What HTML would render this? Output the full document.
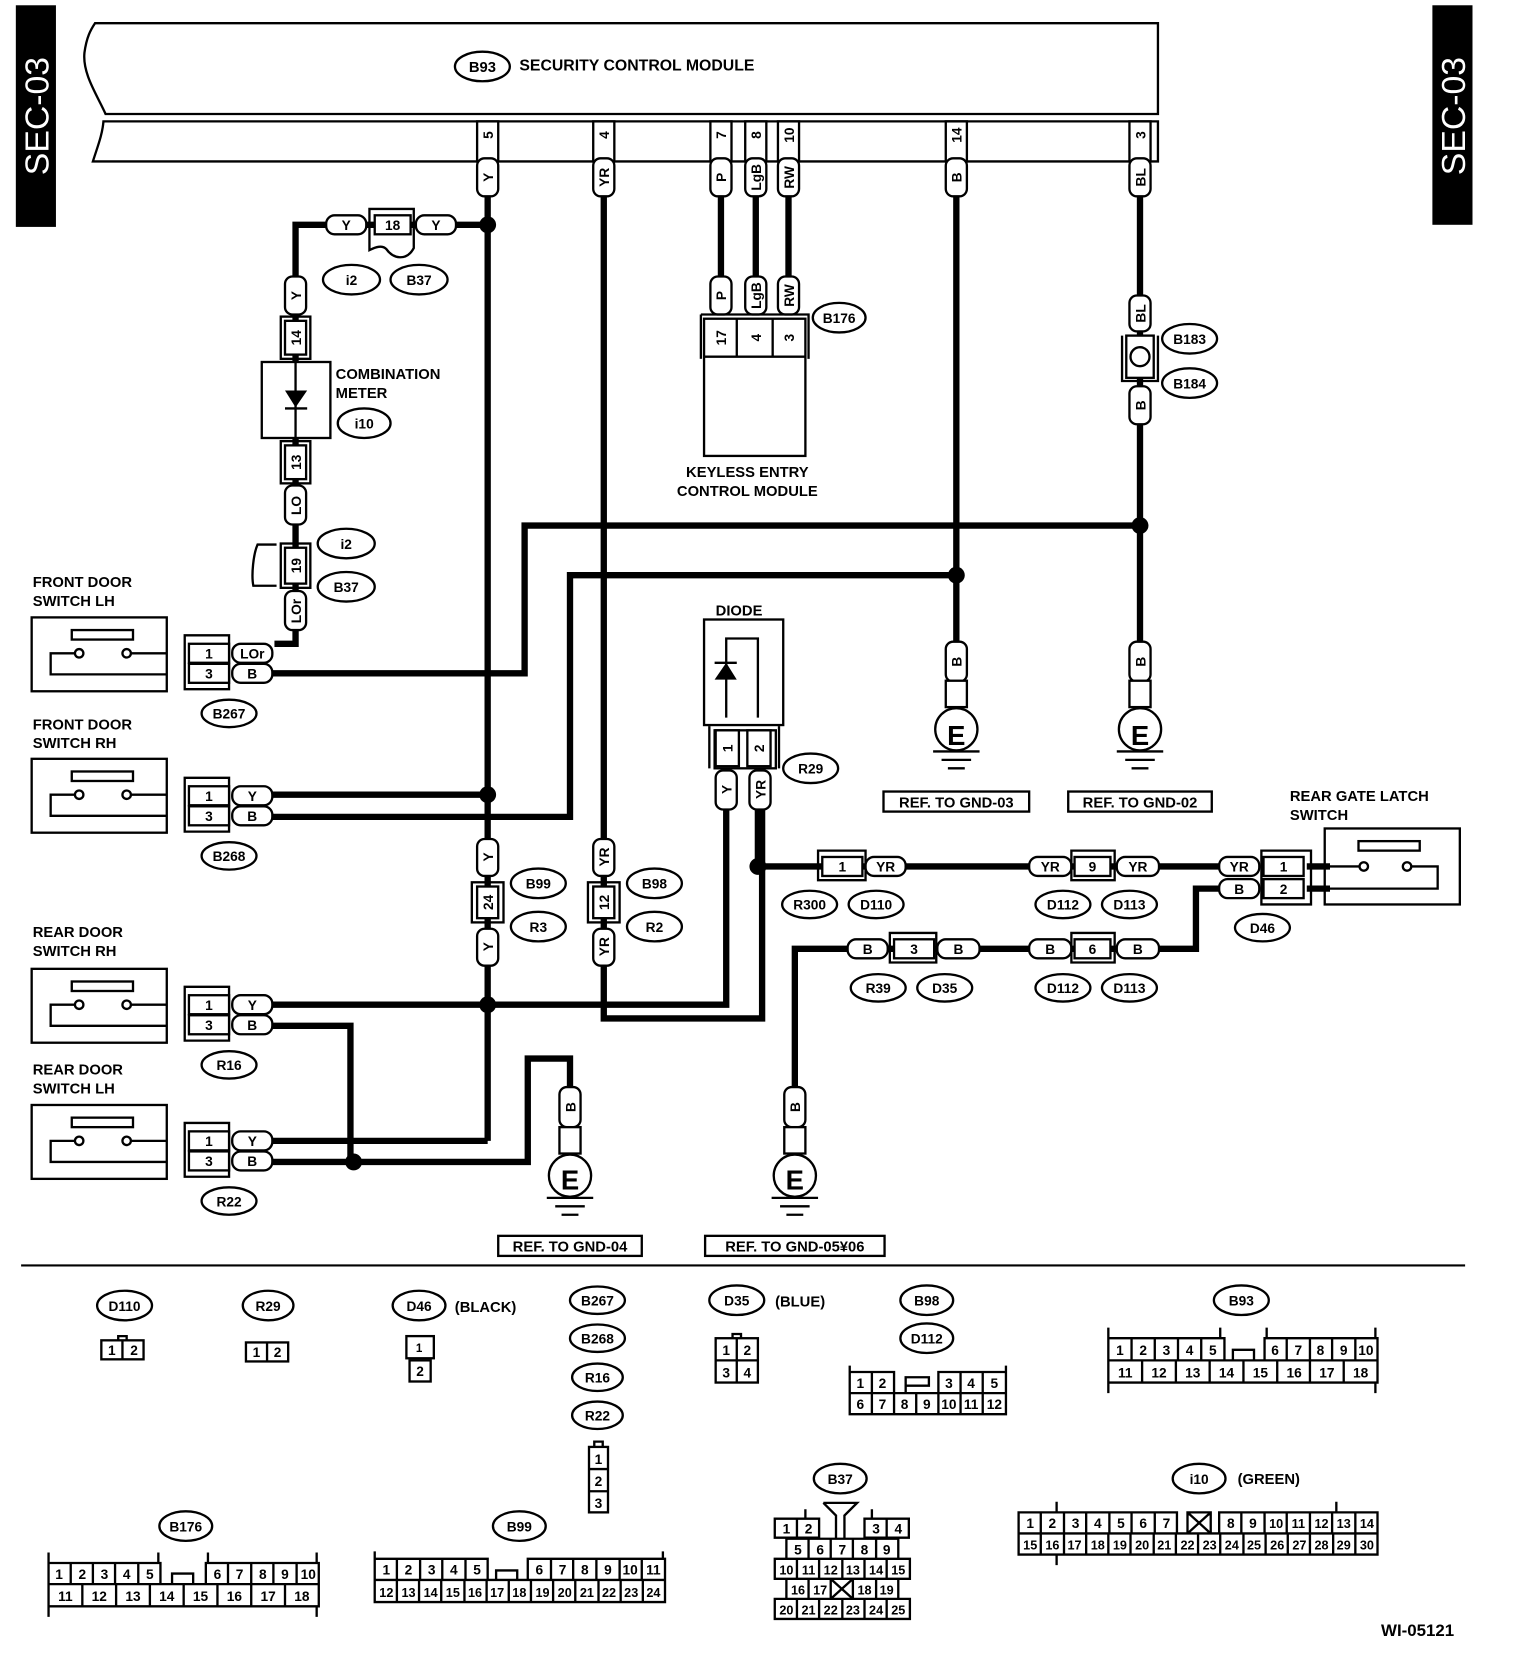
<!DOCTYPE html>
<html><head><meta charset="utf-8"><style>
html,body{margin:0;padding:0;background:#fff}
svg{display:block}
text{font-family:"Liberation Sans",sans-serif;font-weight:bold;fill:#000}
text.sec{font-weight:normal;fill:#fff}
.w{fill:none;stroke:#000;stroke-width:6;stroke-linejoin:miter}
.t{fill:none;stroke:#000;stroke-width:2.2}
.c{fill:#fff;stroke:#000;stroke-width:2.2}
</style></head><body>
<svg width="1520" height="1658" viewBox="0 0 1440 1571" preserveAspectRatio="none" xmlns="http://www.w3.org/2000/svg">
<defs>
<g id="sw">
<rect x="0" y="0" width="128" height="70" class="t"/>
<rect x="38" y="12" width="58" height="9" class="t"/>
<circle cx="45" cy="34" r="4" class="c"/><circle cx="90" cy="34" r="4" class="c"/>
<path d="M41 34H18V54H128M94 34H128" class="t"/>
</g>
<g id="gnd">
<rect x="-10" y="0" width="20" height="25" class="c"/>
<circle cx="0" cy="46" r="20" class="c"/>
<path d="M-22 67H22M-14 75H14M-8 83H8" class="t" stroke-width="2.5"/>
</g>
</defs>

<!-- SEC-03 bars -->
<rect x="15" y="5" width="38" height="210" fill="#000"/>
<text class="sec" transform="translate(46,110) rotate(-90)" font-size="32" text-anchor="middle">SEC-03</text>
<rect x="1357" y="5" width="38" height="208" fill="#000"/>
<text class="sec" transform="translate(1388,110) rotate(-90)" font-size="32" text-anchor="middle">SEC-03</text>

<!-- module -->
<path d="M90 22H1097V108H100C92 90 78 70 80 50C82 35 86 28 90 22Z" class="t"/>
<path d="M98 115H1097V153H88C92 140 97 128 98 115Z" class="t"/>
<ellipse cx="457" cy="63" rx="26" ry="14" class="t"/>
<text x="457" y="68" font-size="14" text-anchor="middle">B93</text>
<text x="492" y="67" font-size="15">SECURITY CONTROL MODULE</text>

<!-- module pins -->
<g font-size="13" text-anchor="middle">
<rect x="452" y="115" width="20" height="38" class="t"/><text transform="translate(467,128) rotate(-90)">5</text>
<rect x="562" y="115" width="20" height="38" class="t"/><text transform="translate(577,128) rotate(-90)">4</text>
<rect x="673" y="115" width="20" height="38" class="t"/><text transform="translate(688,128) rotate(-90)">7</text>
<rect x="706" y="115" width="20" height="38" class="t"/><text transform="translate(721,128) rotate(-90)">8</text>
<rect x="737" y="115" width="20" height="38" class="t"/><text transform="translate(752,128) rotate(-90)">10</text>
<rect x="896" y="115" width="20" height="38" class="t"/><text transform="translate(911,128) rotate(-90)">14</text>
<rect x="1070" y="115" width="20" height="38" class="t"/><text transform="translate(1085,128) rotate(-90)">3</text>
</g>

<!-- wires -->
<path class="w" d="M462 185V1081"/>
<path class="w" d="M462 213H280V610H260"/>
<path class="w" d="M572 185V965H722V760"/>
<path class="w" d="M683 185V265M716 185V265M747 185V265"/>
<path class="w" d="M906 185V612"/>
<path class="w" d="M1080 185V612"/>
<path class="w" d="M258 638H497V498H1080"/>
<path class="w" d="M258 753H462"/>
<path class="w" d="M258 774H540V545H906"/>
<path class="w" d="M258 952H688V765"/>
<path class="w" d="M258 972H332V1101"/>
<path class="w" d="M258 1081H462"/>
<path class="w" d="M258 1101H500V1003H540V1032"/>
<path class="w" d="M718 765V821H1155"/>
<path class="w" d="M1155 842H1133V899H753V1032"/>
<path class="w" d="M1238 821H1260M1238 842H1260"/>

<!-- junctions -->
<g fill="#000">
<circle cx="462" cy="213" r="8"/><circle cx="462" cy="753" r="8"/><circle cx="462" cy="952" r="8"/>
<circle cx="335" cy="1101" r="8"/><circle cx="906" cy="545" r="8"/><circle cx="1080" cy="498" r="8"/>
<circle cx="718" cy="821" r="8"/>
</g>

<!-- vertical capsules -->
<g font-size="13" text-anchor="middle">
<rect x="452" y="150" width="20" height="36" rx="7" class="c"/><text transform="translate(467,168) rotate(-90)">Y</text>
<rect x="562" y="150" width="20" height="36" rx="7" class="c"/><text transform="translate(577,168) rotate(-90)">YR</text>
<rect x="673" y="150" width="20" height="36" rx="7" class="c"/><text transform="translate(688,168) rotate(-90)">P</text>
<rect x="706" y="150" width="20" height="36" rx="7" class="c"/><text transform="translate(721,168) rotate(-90)">LgB</text>
<rect x="737" y="150" width="20" height="36" rx="7" class="c"/><text transform="translate(752,168) rotate(-90)">RW</text>
<rect x="896" y="150" width="20" height="36" rx="7" class="c"/><text transform="translate(911,168) rotate(-90)">B</text>
<rect x="1070" y="150" width="20" height="36" rx="7" class="c"/><text transform="translate(1085,168) rotate(-90)">BL</text>

<!-- combination meter chain -->
<rect x="270" y="262" width="20" height="36" rx="7" class="c"/><text transform="translate(285,280) rotate(-90)">Y</text>
<rect x="266" y="300" width="28" height="40" class="t"/><rect x="270" y="304" width="20" height="32" class="c"/><text transform="translate(285,320) rotate(-90)">14</text>
<rect x="248" y="343" width="65" height="72" class="c"/>
<path d="M280 343V415M270 387H291" class="t"/><path d="M270 370H291L280 386Z" fill="#000"/>
<rect x="266" y="418" width="28" height="40" class="t"/><rect x="270" y="422" width="20" height="32" class="c"/><text transform="translate(285,438) rotate(-90)">13</text>
<rect x="270" y="460" width="20" height="37" rx="7" class="c"/><text transform="translate(285,479) rotate(-90)">LO</text>
<path d="M262 516H244C240 525 238 545 240 555L262 555" class="t"/>
<rect x="266" y="515" width="28" height="42" class="t"/><rect x="270" y="519" width="20" height="34" class="c"/><text transform="translate(285,536) rotate(-90)">19</text>
<rect x="270" y="560" width="20" height="37" rx="7" class="c"/><text transform="translate(285,579) rotate(-90)">LOr</text>

<!-- i2/B37 top connector -->
<rect x="309" y="204" width="38" height="18" rx="8" class="c"/><text x="328" y="218">Y</text>
<path d="M350 198H392V235C385 248 372 245 366 236C362 232 356 234 350 237Z" class="t"/>
<rect x="355" y="204" width="34" height="18" class="c"/><text x="372" y="218">18</text>
<rect x="394" y="204" width="38" height="18" rx="8" class="c"/><text x="413" y="218">Y</text>

<!-- B98 / B99 -->
<rect x="452" y="795" width="20" height="35" rx="7" class="c"/><text transform="translate(467,812) rotate(-90)">Y</text>
<rect x="447" y="836" width="30" height="38" class="t"/><rect x="452" y="840" width="20" height="30" class="c"/><text transform="translate(467,855) rotate(-90)">24</text>
<rect x="452" y="880" width="20" height="35" rx="7" class="c"/><text transform="translate(467,897) rotate(-90)">Y</text>
<rect x="562" y="795" width="20" height="35" rx="7" class="c"/><text transform="translate(577,812) rotate(-90)">YR</text>
<rect x="557" y="836" width="30" height="38" class="t"/><rect x="562" y="840" width="20" height="30" class="c"/><text transform="translate(577,855) rotate(-90)">12</text>
<rect x="562" y="880" width="20" height="35" rx="7" class="c"/><text transform="translate(577,897) rotate(-90)">YR</text>

<!-- keyless -->
<rect x="673" y="262" width="20" height="36" rx="7" class="c"/><text transform="translate(688,280) rotate(-90)">P</text>
<rect x="706" y="262" width="20" height="36" rx="7" class="c"/><text transform="translate(721,280) rotate(-90)">LgB</text>
<rect x="737" y="262" width="20" height="36" rx="7" class="c"/><text transform="translate(752,280) rotate(-90)">RW</text>
<path d="M664 298H766V340" class="t"/><path d="M664 298V340" class="t"/>
<rect x="667" y="302" width="96" height="130" class="t"/>
<path d="M667 338H763M698 302V338M732 302V338" class="t"/>
<text transform="translate(688,320) rotate(-90)">17</text><text transform="translate(721,320) rotate(-90)">4</text><text transform="translate(752,320) rotate(-90)">3</text>

<!-- B183/B184 -->
<rect x="1070" y="280" width="20" height="34" rx="7" class="c"/><text transform="translate(1085,297) rotate(-90)">BL</text>
<path d="M1063 318V361H1097V318" class="t"/>
<rect x="1067" y="318" width="26" height="40" class="c"/><circle cx="1080" cy="338" r="9" class="c"/>
<rect x="1070" y="366" width="20" height="36" rx="7" class="c"/><text transform="translate(1085,384) rotate(-90)">B</text>

<!-- ground capsules -->
<rect x="896" y="608" width="20" height="38" rx="7" class="c"/><text transform="translate(911,627) rotate(-90)">B</text>
<rect x="1070" y="608" width="20" height="38" rx="7" class="c"/><text transform="translate(1085,627) rotate(-90)">B</text>
<rect x="530" y="1030" width="20" height="38" rx="7" class="c"/><text transform="translate(545,1049) rotate(-90)">B</text>
<rect x="743" y="1030" width="20" height="38" rx="7" class="c"/><text transform="translate(758,1049) rotate(-90)">B</text>

<!-- diode -->
<rect x="667" y="587" width="75" height="100" class="t"/>
<path d="M688 680V605H718V680" class="t"/>
<path d="M677 644H698L688 628Z" fill="#000"/><path d="M677 628H698" class="t"/>
<path d="M672 688V728M738 688V728" class="t"/>
<rect x="677" y="692" width="58" height="36" class="t"/>
<rect x="678" y="692" width="22" height="34" class="c"/><text transform="translate(694,709) rotate(-90)">1</text>
<rect x="708" y="692" width="22" height="34" class="c"/><text transform="translate(724,709) rotate(-90)">2</text>
<rect x="678" y="730" width="20" height="37" rx="7" class="c"/><text transform="translate(693,748) rotate(-90)">Y</text>
<rect x="710" y="730" width="20" height="37" rx="7" class="c"/><text transform="translate(725,748) rotate(-90)">YR</text>
</g>

<!-- grounds -->
<use href="#gnd" x="906" y="645"/><use href="#gnd" x="1080" y="645"/>
<use href="#gnd" x="540" y="1068"/><use href="#gnd" x="753" y="1068"/>
<g font-size="26" text-anchor="middle">
<text x="906" y="706">E</text><text x="1080" y="706">E</text><text x="540" y="1127">E</text><text x="753" y="1127">E</text>
</g>
<g font-size="14" text-anchor="middle">
<rect x="837" y="750" width="138" height="19" class="t"/><text x="906" y="765">REF. TO GND-03</text>
<rect x="1012" y="750" width="136" height="19" class="t"/><text x="1080" y="765">REF. TO GND-02</text>
<rect x="472" y="1171" width="136" height="19" class="t"/><text x="540" y="1186">REF. TO GND-04</text>
<rect x="668" y="1171" width="170" height="19" class="t"/><text x="753" y="1186">REF. TO GND-05¥06</text>
</g>

<!-- switches -->
<use href="#sw" x="30" y="585"/><use href="#sw" x="30" y="719"/>
<use href="#sw" x="30" y="918"/><use href="#sw" x="30" y="1047"/>
<g font-size="14">
<text x="31" y="556">FRONT DOOR</text><text x="31" y="574">SWITCH LH</text>
<text x="31" y="691">FRONT DOOR</text><text x="31" y="709">SWITCH RH</text>
<text x="31" y="888">REAR DOOR</text><text x="31" y="906">SWITCH RH</text>
<text x="31" y="1018">REAR DOOR</text><text x="31" y="1036">SWITCH LH</text>
<text x="318" y="359">COMBINATION</text><text x="318" y="377">METER</text>
<text x="708" y="452" text-anchor="middle">KEYLESS ENTRY</text><text x="708" y="470" text-anchor="middle">CONTROL MODULE</text>
<text x="678" y="583">DIODE</text>
<text x="1222" y="759">REAR GATE LATCH</text><text x="1222" y="777">SWITCH</text>
</g>

<!-- switch connectors -->
<g font-size="13" text-anchor="middle">
<g id="sc">
<path d="M175 602H217V653H175Z" class="t"/>
<rect x="179" y="610" width="38" height="18" class="c"/><rect x="179" y="629" width="38" height="18" class="c"/>
<rect x="220" y="610" width="38" height="18" rx="8" class="c"/><rect x="220" y="629" width="38" height="18" rx="8" class="c"/>
</g>
<text x="198" y="624">1</text><text x="198" y="643">3</text><text x="239" y="624">LOr</text><text x="239" y="643">B</text>
<use href="#sc" y="135"/><text x="198" y="759">1</text><text x="198" y="778">3</text><text x="239" y="759">Y</text><text x="239" y="778">B</text>
<use href="#sc" y="333"/><text x="198" y="957">1</text><text x="198" y="976">3</text><text x="239" y="957">Y</text><text x="239" y="976">B</text>
<use href="#sc" y="462"/><text x="198" y="1086">1</text><text x="198" y="1105">3</text><text x="239" y="1086">Y</text><text x="239" y="1105">B</text>

<!-- horizontal connectors -->
<path d="M775 806H820V834H775Z" class="t"/>
<rect x="779" y="812" width="38" height="18" class="c"/><text x="798" y="826">1</text>
<rect x="820" y="812" width="38" height="18" rx="8" class="c"/><text x="839" y="826">YR</text>
<rect x="975" y="812" width="40" height="18" rx="8" class="c"/><text x="995" y="826">YR</text>
<path d="M1015 806H1056V834H1015Z" class="t"/>
<rect x="1018" y="812" width="34" height="18" class="c"/><text x="1035" y="826">9</text>
<rect x="1058" y="812" width="40" height="18" rx="8" class="c"/><text x="1078" y="826">YR</text>
<rect x="803" y="890" width="38" height="18" rx="8" class="c"/><text x="822" y="904">B</text>
<path d="M843 884H887V912H843Z" class="t"/>
<rect x="847" y="890" width="38" height="18" class="c"/><text x="866" y="904">3</text>
<rect x="888" y="890" width="40" height="18" rx="8" class="c"/><text x="908" y="904">B</text>
<rect x="975" y="890" width="40" height="18" rx="8" class="c"/><text x="995" y="904">B</text>
<path d="M1015 884H1056V912H1015Z" class="t"/>
<rect x="1018" y="890" width="34" height="18" class="c"/><text x="1035" y="904">6</text>
<rect x="1058" y="890" width="40" height="18" rx="8" class="c"/><text x="1078" y="904">B</text>
<rect x="1155" y="812" width="38" height="18" rx="8" class="c"/><text x="1174" y="826">YR</text>
<rect x="1155" y="833" width="38" height="18" rx="8" class="c"/><text x="1174" y="847">B</text>
<path d="M1195 806H1242V857H1195Z" class="t"/>
<rect x="1197" y="812" width="38" height="18" class="c"/><rect x="1197" y="833" width="38" height="18" class="c"/>
<text x="1216" y="826">1</text><text x="1216" y="847">2</text>
</g>
<!-- rear gate switch -->
<rect x="1255" y="785" width="128" height="72" class="t"/>
<rect x="1287" y="797" width="58" height="9" class="t"/>
<circle cx="1292" cy="821" r="4" class="c"/><circle cx="1333" cy="821" r="4" class="c"/>
<path d="M1288 821H1255M1337 821H1362V842H1255" class="t"/>

<!-- ovals -->
<g font-size="13" text-anchor="middle">
<g class="t">
<ellipse cx="333" cy="265" rx="27" ry="14"/><ellipse cx="397" cy="265" rx="27" ry="14"/>
<ellipse cx="345" cy="401" rx="25" ry="14"/><ellipse cx="328" cy="515" rx="27" ry="14"/><ellipse cx="328" cy="556" rx="27" ry="14"/>
<ellipse cx="795" cy="301" rx="25" ry="14"/><ellipse cx="1127" cy="321" rx="26" ry="14"/><ellipse cx="1127" cy="363" rx="26" ry="14"/>
<ellipse cx="217" cy="676" rx="26" ry="13"/><ellipse cx="217" cy="811" rx="26" ry="13"/><ellipse cx="217" cy="1009" rx="26" ry="13"/><ellipse cx="217" cy="1138" rx="26" ry="13"/>
<ellipse cx="510" cy="837" rx="26" ry="14"/><ellipse cx="510" cy="878" rx="26" ry="14"/><ellipse cx="620" cy="837" rx="26" ry="14"/><ellipse cx="620" cy="878" rx="26" ry="14"/>
<ellipse cx="768" cy="728" rx="26" ry="14"/>
<ellipse cx="767" cy="857" rx="26" ry="13"/><ellipse cx="830" cy="857" rx="26" ry="13"/><ellipse cx="1007" cy="857" rx="26" ry="13"/><ellipse cx="1070" cy="857" rx="26" ry="13"/>
<ellipse cx="1196" cy="879" rx="26" ry="13"/>
<ellipse cx="832" cy="936" rx="26" ry="13"/><ellipse cx="895" cy="936" rx="26" ry="13"/><ellipse cx="1007" cy="936" rx="26" ry="13"/><ellipse cx="1070" cy="936" rx="26" ry="13"/>
</g>
<text x="333" y="270">i2</text><text x="397" y="270">B37</text><text x="345" y="406">i10</text>
<text x="328" y="520">i2</text><text x="328" y="561">B37</text><text x="795" y="306">B176</text>
<text x="1127" y="326">B183</text><text x="1127" y="368">B184</text>
<text x="217" y="681">B267</text><text x="217" y="816">B268</text><text x="217" y="1014">R16</text><text x="217" y="1143">R22</text>
<text x="510" y="842">B99</text><text x="510" y="883">R3</text><text x="620" y="842">B98</text><text x="620" y="883">R2</text>
<text x="768" y="733">R29</text>
<text x="767" y="862">R300</text><text x="830" y="862">D110</text><text x="1007" y="862">D112</text><text x="1070" y="862">D113</text>
<text x="1196" y="884">D46</text>
<text x="832" y="941">R39</text><text x="895" y="941">D35</text><text x="1007" y="941">D112</text><text x="1070" y="941">D113</text>
</g>

<!-- divider -->
<path d="M20 1199H1388" stroke="#000" stroke-width="2"/>

<!-- bottom connector legends -->
<g font-size="13" text-anchor="middle">
<g class="t">
<ellipse cx="118" cy="1237" rx="26" ry="14"/><ellipse cx="254" cy="1237" rx="24" ry="14"/><ellipse cx="397" cy="1237" rx="25" ry="14"/>
<ellipse cx="566" cy="1232" rx="26" ry="13"/><ellipse cx="566" cy="1268" rx="26" ry="13"/><ellipse cx="566" cy="1305" rx="24" ry="13"/><ellipse cx="566" cy="1341" rx="24" ry="13"/>
<ellipse cx="698" cy="1232" rx="26" ry="14"/><ellipse cx="878" cy="1232" rx="25" ry="14"/><ellipse cx="878" cy="1268" rx="25" ry="14"/>
<ellipse cx="1176" cy="1232" rx="26" ry="14"/><ellipse cx="1136" cy="1401" rx="25" ry="14"/><ellipse cx="796" cy="1401" rx="25" ry="14"/>
<ellipse cx="176" cy="1446" rx="25" ry="14"/><ellipse cx="492" cy="1446" rx="25" ry="14"/>
</g>
<text x="118" y="1242">D110</text><text x="254" y="1242">R29</text><text x="397" y="1242">D46</text>
<text x="566" y="1237">B267</text><text x="566" y="1273">B268</text><text x="566" y="1310">R16</text><text x="566" y="1346">R22</text>
<text x="698" y="1237">D35</text><text x="878" y="1237">B98</text><text x="878" y="1273">D112</text>
<text x="1176" y="1237">B93</text><text x="1136" y="1406">i10</text><text x="796" y="1406">B37</text>
<text x="176" y="1451">B176</text><text x="492" y="1451">B99</text>
<text x="460" y="1243" font-size="14">(BLACK)</text><text x="758" y="1238" font-size="14">(BLUE)</text><text x="1202" y="1406" font-size="14">(GREEN)</text>
<text x="1343" y="1550" font-size="16">WI-05121</text>
</g>

<g font-size="13" text-anchor="middle">
<!-- D110 -->
<rect x="96" y="1270" width="40" height="18" class="t"/><path d="M116 1270V1288M112 1270V1266H120V1270" class="t"/>
<text x="106" y="1284">1</text><text x="127" y="1284">2</text>
<!-- R29 -->
<rect x="233" y="1272" width="40" height="18" class="t"/><path d="M253 1272V1290" class="t"/>
<text x="243" y="1286">1</text><text x="263" y="1286">2</text>
<!-- D46 -->
<rect x="385" y="1266" width="26" height="21" class="t"/><rect x="388" y="1289" width="20" height="20" class="t"/>
<text x="397" y="1281" font-size="11">1</text><text x="398" y="1304">2</text>
<!-- 3-pin -->
<rect x="558" y="1371" width="18" height="62" class="t"/><path d="M558 1392H576M558 1413H576M563 1371V1366H571V1371" class="t"/>
<text x="567" y="1387">1</text><text x="567" y="1408">2</text><text x="567" y="1429">3</text>
<!-- D35 -->
<rect x="678" y="1268" width="40" height="42" class="t"/><path d="M678 1289H718M698 1268V1310M694 1268V1264H702V1268" class="t"/>
<text x="688" y="1284">1</text><text x="708" y="1284">2</text><text x="688" y="1305">3</text><text x="708" y="1305">4</text>
<!-- B98/D112 -->
<path d="M805 1300H847V1320H805ZM889 1300H953V1320H889ZM805 1320H953V1340H805ZM826 1300V1320M910 1300V1320M931 1300V1320M858 1313H880V1305H858V1320M826 1320V1340M847 1320V1340M868 1320V1340M889 1320V1340M910 1320V1340M931 1320V1340M805 1294V1300M953 1294V1300" class="t"/>
<text x="815" y="1315">1</text><text x="836" y="1315">2</text><text x="899" y="1315">3</text><text x="920" y="1315">4</text><text x="942" y="1315">5</text>
<text x="815" y="1335">6</text><text x="836" y="1335">7</text><text x="857" y="1335">8</text><text x="878" y="1335">9</text><text x="899" y="1335">10</text><text x="920" y="1335">11</text><text x="942" y="1335">12</text>
<!-- B93 -->
<path d="M1050 1268H1160V1289H1050ZM1198 1268H1305V1289H1198ZM1050 1289H1305V1310H1050ZM1072 1268V1289M1094 1268V1289M1116 1268V1289M1138 1268V1289M1219 1268V1289M1241 1268V1289M1262 1268V1289M1284 1268V1289M1168 1289V1279H1188V1289M1082 1289V1310M1114 1289V1310M1146 1289V1310M1178 1289V1310M1210 1289V1310M1241 1289V1310M1273 1289V1310M1050 1258V1268M1156 1258V1268M1200 1258V1268M1303 1258V1268M1050 1310V1320M1303 1310V1320" class="t"/>
<text x="1061" y="1284">1</text><text x="1083" y="1284">2</text><text x="1105" y="1284">3</text><text x="1127" y="1284">4</text><text x="1149" y="1284">5</text>
<text x="1208" y="1284">6</text><text x="1230" y="1284">7</text><text x="1251" y="1284">8</text><text x="1273" y="1284">9</text><text x="1294" y="1284">10</text>
<text x="1066" y="1305">11</text><text x="1098" y="1305">12</text><text x="1130" y="1305">13</text><text x="1162" y="1305">14</text><text x="1194" y="1305">15</text><text x="1226" y="1305">16</text><text x="1257" y="1305">17</text><text x="1289" y="1305">18</text>
<!-- B176 -->
<path d="M46 1481H152V1501H46ZM195 1481H302V1501H195ZM46 1501H302V1522H46ZM67 1481V1501M88 1481V1501M109 1481V1501M131 1481V1501M216 1481V1501M238 1481V1501M259 1481V1501M281 1481V1501M163 1501V1491H183V1501M78 1501V1522M110 1501V1522M142 1501V1522M174 1501V1522M206 1501V1522M238 1501V1522M270 1501V1522M46 1471V1481M150 1471V1481M197 1471V1481M300 1471V1481M46 1522V1532M300 1522V1532" class="t"/>
<text x="56" y="1496">1</text><text x="78" y="1496">2</text><text x="99" y="1496">3</text><text x="120" y="1496">4</text><text x="142" y="1496">5</text>
<text x="206" y="1496">6</text><text x="227" y="1496">7</text><text x="249" y="1496">8</text><text x="270" y="1496">9</text><text x="292" y="1496">10</text>
<text x="62" y="1517">11</text><text x="94" y="1517">12</text><text x="126" y="1517">13</text><text x="158" y="1517">14</text><text x="190" y="1517">15</text><text x="222" y="1517">16</text><text x="254" y="1517">17</text><text x="286" y="1517">18</text>
<!-- B99 -->
<path d="M355 1477H462V1497H355ZM500 1477H630V1497H500ZM355 1497H630V1518H355ZM376 1477V1497M398 1477V1497M419 1477V1497M441 1477V1497M522 1477V1497M543 1477V1497M565 1477V1497M587 1477V1497M608 1477V1497M470 1497V1488H490V1497M376 1497V1518M397 1497V1518M418 1497V1518M440 1497V1518M461 1497V1518M482 1497V1518M503 1497V1518M524 1497V1518M545 1497V1518M567 1497V1518M588 1497V1518M609 1497V1518M355 1470V1477M628 1470V1477" class="t"/>
<text x="366" y="1492">1</text><text x="387" y="1492">2</text><text x="409" y="1492">3</text><text x="430" y="1492">4</text><text x="452" y="1492">5</text>
<text x="511" y="1492">6</text><text x="533" y="1492">7</text><text x="554" y="1492">8</text><text x="576" y="1492">9</text><text x="597" y="1492">10</text><text x="619" y="1492">11</text>
<g font-size="12"><text x="366" y="1513">12</text><text x="387" y="1513">13</text><text x="408" y="1513">14</text><text x="429" y="1513">15</text><text x="450" y="1513">16</text><text x="471" y="1513">17</text><text x="492" y="1513">18</text><text x="514" y="1513">19</text><text x="535" y="1513">20</text><text x="556" y="1513">21</text><text x="577" y="1513">22</text><text x="598" y="1513">23</text><text x="619" y="1513">24</text></g>
<!-- B37 -->
<path d="M734 1439H776V1457H734ZM819 1439H861V1457H819ZM755 1439V1457M840 1439V1457M745 1458H851V1477H745ZM766 1458V1477M787 1458V1477M808 1458V1477M830 1458V1477M734 1477H862V1496H734ZM755 1477V1496M776 1477V1496M798 1477V1496M819 1477V1496M840 1477V1496M745 1496H851V1515H745ZM766 1496V1515M787 1496V1515M808 1496V1515M830 1496V1515M787 1496L808 1515M808 1496L787 1515M734 1515H862V1534H734ZM755 1515V1534M776 1515V1534M798 1515V1534M819 1515V1534M840 1515V1534M780 1424H812L800 1436V1457M780 1424L792 1436V1457M763 1439V1430M826 1439V1430" class="t"/>
<text x="745" y="1453">1</text><text x="766" y="1453">2</text><text x="830" y="1453">3</text><text x="851" y="1453">4</text>
<text x="756" y="1473">5</text><text x="777" y="1473">6</text><text x="798" y="1473">7</text><text x="819" y="1473">8</text><text x="840" y="1473">9</text>
<g font-size="12"><text x="745" y="1492">10</text><text x="766" y="1492">11</text><text x="787" y="1492">12</text><text x="808" y="1492">13</text><text x="830" y="1492">14</text><text x="851" y="1492">15</text>
<text x="756" y="1511">16</text><text x="777" y="1511">17</text><text x="819" y="1511">18</text><text x="840" y="1511">19</text>
<text x="745" y="1530">20</text><text x="766" y="1530">21</text><text x="787" y="1530">22</text><text x="808" y="1530">23</text><text x="830" y="1530">24</text><text x="851" y="1530">25</text></g>
<!-- i10 -->
<path d="M965 1433H1115V1453H965ZM1155 1433H1305V1453H1155ZM986 1433V1453M1008 1433V1453M1029 1433V1453M1051 1433V1453M1072 1433V1453M1094 1433V1453M1176 1433V1453M1198 1433V1453M1219 1433V1453M1241 1433V1453M1262 1433V1453M1284 1433V1453M1125 1433H1147V1453H1125ZM1125 1433L1147 1453M1147 1433L1125 1453M965 1453H1305V1473H965ZM1001 1423V1433M1266 1423V1433M1001 1473V1483" class="t"/>
<path d="M986 1453V1473M1008 1453V1473M1029 1453V1473M1050 1453V1473M1071 1453V1473M1093 1453V1473M1114 1453V1473M1135 1453V1473M1156 1453V1473M1178 1453V1473M1199 1453V1473M1220 1453V1473M1241 1453V1473M1263 1453V1473M1284 1453V1473" class="t"/>
<text x="976" y="1448">1</text><text x="997" y="1448">2</text><text x="1019" y="1448">3</text><text x="1040" y="1448">4</text><text x="1062" y="1448">5</text><text x="1083" y="1448">6</text><text x="1105" y="1448">7</text>
<text x="1166" y="1448">8</text><text x="1187" y="1448">9</text><g font-size="12"><text x="1209" y="1448">10</text><text x="1230" y="1448">11</text><text x="1252" y="1448">12</text><text x="1273" y="1448">13</text><text x="1295" y="1448">14</text>
<text x="976" y="1468">15</text><text x="997" y="1468">16</text><text x="1018" y="1468">17</text><text x="1040" y="1468">18</text><text x="1061" y="1468">19</text><text x="1082" y="1468">20</text><text x="1103" y="1468">21</text><text x="1125" y="1468">22</text><text x="1146" y="1468">23</text><text x="1167" y="1468">24</text><text x="1188" y="1468">25</text><text x="1210" y="1468">26</text><text x="1231" y="1468">27</text><text x="1252" y="1468">28</text><text x="1273" y="1468">29</text><text x="1295" y="1468">30</text></g>
</g>
</svg>
</body></html>
